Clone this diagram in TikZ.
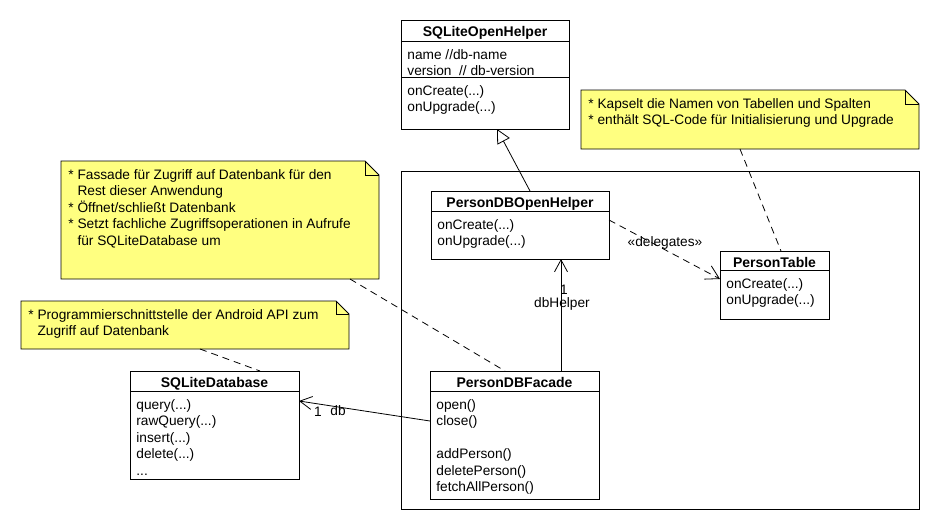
\documentclass[tikz,border=0pt]{standalone}
\usepackage{fontspec}
\setmainfont{Liberation Sans}
\usetikzlibrary{arrows.meta}
\definecolor{noteyellow}{RGB}{255,255,128}
\newcommand{\mystrut}{\rule{0pt}{13pt}}
\begin{document}
\begin{tikzpicture}[x=1pt,y=-1pt,line width=0.8pt,
  every node/.style={font=\fontsize{13.7}{16.5}\selectfont},
  classbox/.style={draw,rectangle,anchor=north west,inner sep=0pt,outer sep=0pt},
  frame/.style={draw,rectangle,anchor=north west,inner sep=0pt,outer sep=0pt},
  classtitle/.style={anchor=base,inner sep=0pt,font=\fontsize{14}{16.5}\selectfont\bfseries},
  members/.style={anchor=north west,inner sep=0pt,align=left},
  notearea/.style={rectangle,anchor=north west,inner sep=0pt,outer sep=0pt},
  notefill/.style={draw,fill=noteyellow},
  notetext/.style={anchor=north west,inner sep=0pt,align=left},
  gen/.style={-{Triangle[open,length=14pt,width=14pt]}},
  assoc/.style={-{Straight Barb[length=12pt,width=13pt]}},
  dep/.style={dashed,dash pattern=on 7pt off 5pt,-{Straight Barb[length=13pt,width=15pt]}},
  noteline/.style={dash pattern=on 7pt off 5pt},
  lbl/.style={inner sep=0pt,anchor=center}
]
\useasboundingbox (0,0) rectangle (940,530);
\fill[white] (0,0) rectangle (940,530);

% frame
\node[frame,minimum width=518pt,minimum height=338pt] (frm) at (401,171) {};

% notes
\node[notearea,minimum width=338pt,minimum height=59pt] (kap) at (581,90) {};
\draw[notefill] (kap.north west) -- ([xshift=-14pt]kap.north east) -- ([yshift=-14pt]kap.north east) -- (kap.south east) -- (kap.south west) -- cycle;
\draw ([xshift=-14pt]kap.north east) -- ([xshift=-14pt,yshift=-14pt]kap.north east) -- ([yshift=-14pt]kap.north east);
\node[notetext] (kapT) at ([xshift=7pt,yshift=-5pt]kap.north west) {\mystrut* Kapselt die Namen von Tabellen und Spalten\\* enthält SQL-Code für Initialisierung und Upgrade};

\node[notearea,minimum width=318pt,minimum height=118pt] (fas) at (61,161) {};
\draw[notefill] (fas.north west) -- ([xshift=-14pt]fas.north east) -- ([yshift=-14pt]fas.north east) -- (fas.south east) -- (fas.south west) -- cycle;
\draw ([xshift=-14pt]fas.north east) -- ([xshift=-14pt,yshift=-14pt]fas.north east) -- ([yshift=-14pt]fas.north east);
\node[notetext] (fasT) at ([xshift=7pt,yshift=-5pt]fas.north west) {\mystrut* Fassade für Zugriff auf Datenbank für den\\\hphantom{*}\ Rest dieser Anwendung\\* Öffnet/schließt Datenbank\\* Setzt fachliche Zugriffsoperationen in Aufrufe\\\hphantom{*}\ für SQLiteDatabase um};

\node[notearea,minimum width=328pt,minimum height=48pt] (api) at (21,301) {};
\draw[notefill] (api.north west) -- ([xshift=-13pt]api.north east) -- ([yshift=-13pt]api.north east) -- (api.south east) -- (api.south west) -- cycle;
\draw ([xshift=-13pt]api.north east) -- ([xshift=-13pt,yshift=-13pt]api.north east) -- ([yshift=-13pt]api.north east);
\node[notetext] (apiT) at ([xshift=7pt,yshift=-5pt]api.north west) {\mystrut* Programmierschnittstelle der Android API zum\\\hphantom{*}\ Zugriff auf Datenbank};

% SQLiteOpenHelper
\node[classbox,minimum width=168pt,minimum height=109pt] (soh) at (401,20) {};
\node[classtitle] (sohT) at ([yshift=-16pt]soh.north) {SQLiteOpenHelper};
\draw ([yshift=-21pt]soh.north west) -- ([yshift=-21pt]soh.north east);
\draw ([yshift=-57pt]soh.north west) -- ([yshift=-57pt]soh.north east);
\node[members] (sohA) at ([xshift=6pt,yshift=-26pt]soh.north west) {\mystrut name //db-name\\version\ \ // db-version};
\node[members] (sohO) at ([xshift=6pt,yshift=-62pt]soh.north west) {\mystrut onCreate(...)\\onUpgrade(...)};

% PersonDBOpenHelper
\node[classbox,minimum width=178pt,minimum height=68pt] (pdoh) at (431,191) {};
\node[classtitle] (pdohT) at ([yshift=-16pt]pdoh.north) {PersonDBOpenHelper};
\draw ([yshift=-20pt]pdoh.north west) -- ([yshift=-20pt]pdoh.north east);
\node[members] (pdohO) at ([xshift=6pt,yshift=-25pt]pdoh.north west) {\mystrut onCreate(...)\\onUpgrade(...)};

% PersonTable
\node[classbox,minimum width=109pt,minimum height=68pt] (pt) at (720,251) {};
\node[classtitle] (ptT) at ([yshift=-16pt]pt.north) {PersonTable};
\draw ([yshift=-19pt]pt.north west) -- ([yshift=-19pt]pt.north east);
\node[members] (ptO) at ([xshift=6pt,yshift=-24pt]pt.north west) {\mystrut onCreate(...)\\onUpgrade(...)};

% SQLiteDatabase
\node[classbox,minimum width=169pt,minimum height=108pt] (sdb) at (130,371) {};
\node[classtitle] (sdbT) at ([yshift=-16pt]sdb.north) {SQLiteDatabase};
\draw ([yshift=-20pt]sdb.north west) -- ([yshift=-20pt]sdb.north east);
\node[members] (sdbO) at ([xshift=6pt,yshift=-25pt]sdb.north west) {\mystrut query(...)\\rawQuery(...)\\insert(...)\\delete(...)\\...};

% PersonDBFacade
\node[classbox,minimum width=169pt,minimum height=128pt] (pdf) at (430,371) {};
\node[classtitle] (pdfT) at ([yshift=-16pt]pdf.north) {PersonDBFacade};
\draw ([yshift=-20pt]pdf.north west) -- ([yshift=-20pt]pdf.north east);
\node[members] (pdfO) at ([xshift=6pt,yshift=-25pt]pdf.north west) {\mystrut open()\\close()\\\mbox{}\\addPerson()\\deletePerson()\\fetchAllPerson()};

% connectors
\draw[gen] ([xshift=99pt]pdoh.north west) -- ([xshift=96pt]soh.south west);
\draw[dep] ([yshift=-29pt]pdoh.north east) -- ([yshift=-28pt]pt.north west);
\draw[assoc] ([xshift=131pt]pdf.north west) -- ([xshift=130pt]pdoh.south west);
\draw[assoc] ([yshift=-50pt]pdf.north west) -- ([yshift=-30pt]sdb.north east);
\draw[noteline] ([xshift=159pt]kap.south west) -- ([xshift=61pt]pt.north west);
\draw[noteline] ([xshift=289pt]fas.south west) -- ([xshift=75pt]pdf.north west);
\draw[noteline] ([xshift=179pt]api.south west) -- ([xshift=130pt]sdb.north west);

% labels
\node[lbl] (lDel) at (665,243) {«delegates»};
\node[lbl] (lOne1) at (564,290) {1};
\node[lbl] (lHelper) at (562,304) {dbHelper};
\node[lbl] (lOne2) at (318,412) {1};
\node[lbl] (lDb) at (338,411) {db};
\end{tikzpicture}
\end{document}
